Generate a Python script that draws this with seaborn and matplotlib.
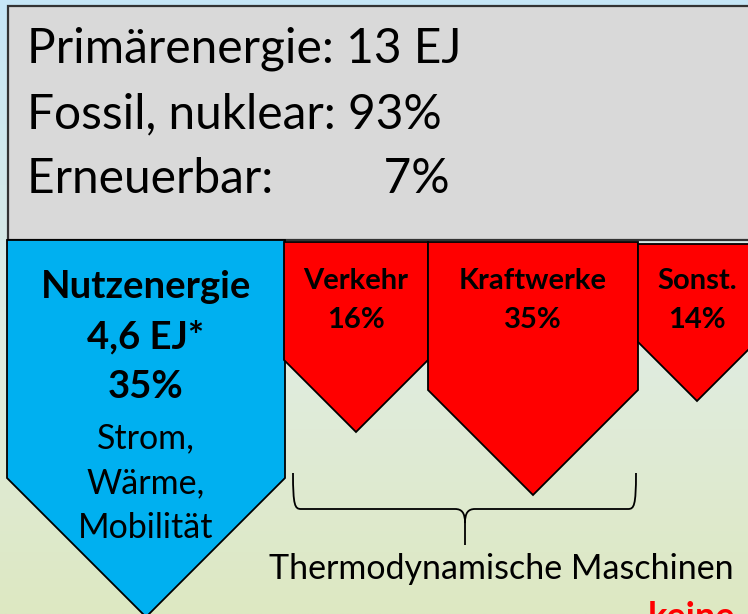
import numpy as np
import matplotlib
matplotlib.use("Agg")
import matplotlib.pyplot as plt
import seaborn as sns
from matplotlib.patches import Polygon, Rectangle, PathPatch
from matplotlib.path import Path

# ---- data ----
summary_lines = ["Primärenergie: 13 EJ", "Fossil, nuklear: 93%", "Erneuerbar:         7%"]
useful_title = ["Nutzenergie", "4,6 EJ*", "35%"]
useful_items = ["Strom,", "Wärme,", "Mobilität"]
loss_labels = ["Verkehr", "Kraftwerke", "Sonst."]
loss_values = ["16%", "35%", "14%"]
brace_label = "Thermodynamische Maschinen"
corner_label = "keine"

# ---- layout (pixel coordinates) ----
W, H = 748, 614
loss_left = [284, 428, 638]
loss_width = [144, 210, 118]
loss_top = [242, 242, 244]
loss_shoulder = [360, 390, 342]
blue_left, blue_width, blue_top, blue_shoulder = 7, 278, 240, 478

sns.set_style("white")
plt.rcParams['font.family'] = ['Lato', 'DejaVu Sans']
plt.rcParams['text.color'] = 'black'

fig = plt.figure(figsize=(W / 100, H / 100), dpi=100)
ax = fig.add_axes([0, 0, 1, 1])
ax.set_xlim(0, W)
ax.set_ylim(H, 0)
ax.axis("off")

# background gradient (light blue -> light green)
top_c = np.array([198, 230, 247]) / 255
mid_c = np.array([224, 236, 222]) / 255
bot_c = np.array([221, 232, 194]) / 255
t = np.linspace(0, 1, 256)[:, None]
grad = np.where(t < 0.6, top_c + (mid_c - top_c) * (t / 0.6), mid_c + (bot_c - mid_c) * ((t - 0.6) / 0.4))
ax.imshow(grad[:, None, :].repeat(2, axis=1), extent=[0, W, H, 0], aspect="auto", zorder=0)

# gray summary box
ax.add_patch(Rectangle((8, 6), 800, 234, facecolor="#d9d9d9", edgecolor="#333333", lw=1.6, zorder=1))
for i, line in enumerate(summary_lines):
    ax.text(27, 49 + i * 65, line, fontsize=34.5, va="center", ha="left", color="black", zorder=5)


def arrow(left, width, top, shoulder, color):
    half = width / 2
    pts = [(left, top), (left + width, top), (left + width, shoulder),
           (left + half, shoulder + half), (left, shoulder)]
    return Polygon(pts, closed=True, facecolor=color, edgecolor="black", lw=1.3, zorder=2)


ax.add_patch(arrow(blue_left, blue_width, blue_top, blue_shoulder, "#00b0f0"))
cx = blue_left + blue_width / 2
for i, s in enumerate(useful_title):
    ax.text(cx, 287 + i * 50, s, fontsize=27.5, fontweight="bold", ha="center", va="center",
            color="black", zorder=5)
for i, s in enumerate(useful_items):
    ax.text(cx, 438 + i * 45, s, fontsize=24.5, ha="center", va="center", color="black", zorder=5)

for lab, val, l, w, tp, sh in zip(loss_labels, loss_values, loss_left, loss_width, loss_top, loss_shoulder):
    ax.add_patch(arrow(l, w, tp, sh, "#ff0000"))
    ax.text(l + w / 2, 281, lab, fontsize=21, fontweight="bold", ha="center", va="center",
            color="black", zorder=5)
    ax.text(l + w / 2, 320, val, fontsize=21, fontweight="bold", ha="center", va="center",
            color="black", zorder=5)

# brace
xl, xr, yt, yb = 293, 636, 473, 509
xm, ytip = 465, 545
verts = [(xl, yt), (xl, yb - 3), (xl + 2, yb), (xl + 8, yb),
         (xm - 10, yb),
         (xm - 3, yb), (xm, yb + 4), (xm, yb + 14),
         (xm, ytip),
         (xm, yb + 14),
         (xm, yb + 4), (xm + 3, yb), (xm + 10, yb),
         (xr - 8, yb),
         (xr - 2, yb), (xr, yb - 3), (xr, yt)]
codes = [Path.MOVETO, Path.CURVE4, Path.CURVE4, Path.CURVE4,
         Path.LINETO,
         Path.CURVE4, Path.CURVE4, Path.CURVE4,
         Path.LINETO,
         Path.MOVETO,
         Path.CURVE4, Path.CURVE4, Path.CURVE4,
         Path.LINETO,
         Path.CURVE4, Path.CURVE4, Path.CURVE4]
ax.add_patch(PathPatch(Path(verts, codes), facecolor="none", edgecolor="black", lw=1.3, zorder=3))

ax.text(501, 569, brace_label, fontsize=24.5, ha="center", va="center", color="black", zorder=5)
ax.text(648, 601, corner_label, fontsize=26, fontweight="bold", color="#ff0000", ha="left", va="top", zorder=5)

fig.savefig("out.png", dpi=100)
